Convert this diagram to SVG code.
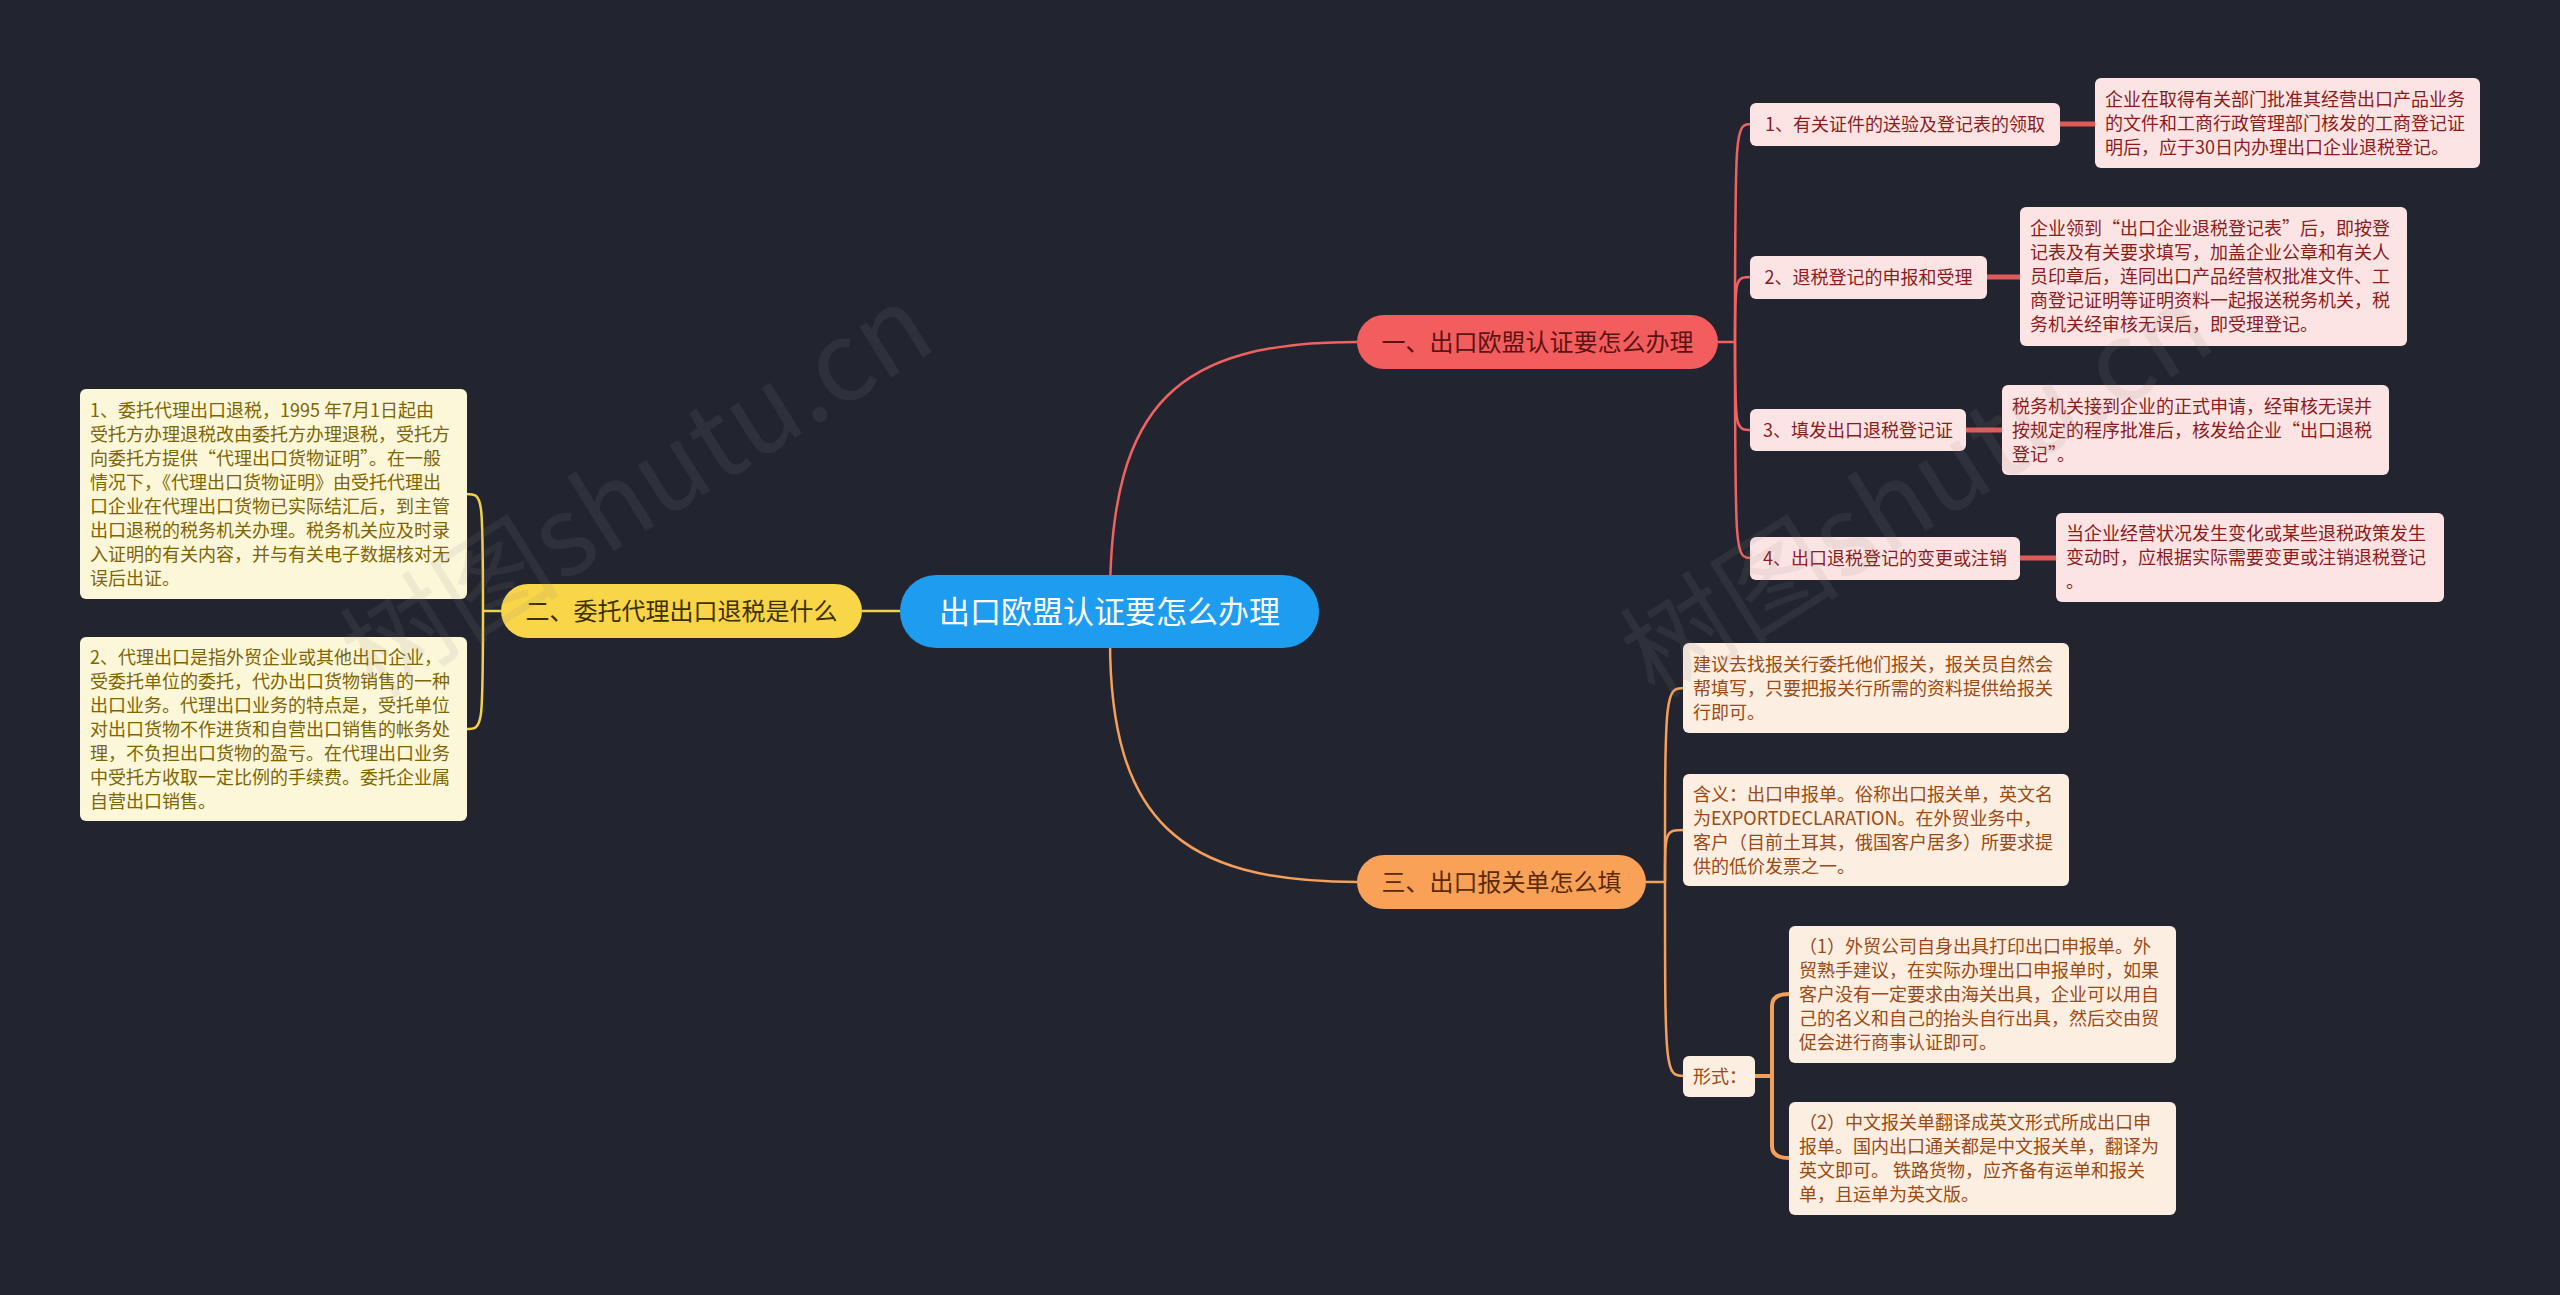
<svg xmlns="http://www.w3.org/2000/svg" width="2560" height="1295" viewBox="0 0 2560 1295">
<style>
text{font-family:"Noto Sans CJK SC","Noto Sans",sans-serif;}
.lr{fill:none;stroke:#f06262;stroke-width:2.5;}
.lo{fill:none;stroke:#f5a05a;stroke-width:2.5;}
.ly{fill:none;stroke:#f2d04a;stroke-width:2.5;}
.tr{fill:none;stroke:#e05a5a;stroke-width:5;}
.to{fill:none;stroke:#f5a05a;stroke-width:4;}
.pk{fill:#fde4e4;}
.pc{fill:#fdeee2;}
.cr{fill:#fdf7da;}
.tpk{font-size:18px;fill:#8b1c1c;}
.tpc{font-size:18px;fill:#9a4a12;}
.tcr{font-size:18px;fill:#7d6500;}
.wm{font-size:110px;fill:#8a8a8a;opacity:0.12;}
</style>
<rect x="0" y="0" width="2560" height="1295" fill="#22252f"/>
<g id="connectors">
<path class="lr" d="M1110 600 C1110 400 1180 342 1357 342"/>
<path class="lo" d="M1110 640 C1110 820 1180 882 1357 882"/>
<path class="ly" d="M900 611 H862" stroke-width="3"/>
<path class="lr" d="M1718 342 H1735"/>
<path class="lr" d="M1735 342 C1735 124 1735 124 1752 124"/>
<path class="lr" d="M1735 342 C1735 277 1735 277 1752 277"/>
<path class="lr" d="M1735 342 C1735 430 1735 430 1752 430"/>
<path class="lr" d="M1735 342 C1735 558 1735 558 1752 558"/>
<path class="tr" d="M2060 124 H2095"/>
<path class="tr" d="M1987 277 H2020"/>
<path class="tr" d="M1966 430 H2002"/>
<path class="tr" d="M2020 558 H2056"/>
<path class="lo" d="M1646 882 H1665"/>
<path class="lo" d="M1665 882 C1665 688 1665 688 1685 688"/>
<path class="lo" d="M1665 882 C1665 830 1665 830 1685 830"/>
<path class="lo" d="M1665 882 C1665 1076 1665 1076 1685 1076"/>
<path class="to" d="M1755 1076 H1772"/>
<path class="to" d="M1772 1076 V1006 Q1772 994 1789 994"/>
<path class="to" d="M1772 1076 V1146 Q1772 1158 1789 1158"/>
<path class="ly" d="M501 611 H483"/>
<path class="ly" d="M483 611 C483 494 483 494 466 494"/>
<path class="ly" d="M483 611 C483 729 483 729 466 729"/>
</g>
<g id="center">
<rect x="900" y="575" width="419" height="73" rx="36" fill="#1e9cf0"/>
<text x="1109.5" y="623" font-size="31" fill="#ffffff" text-anchor="middle">出口欧盟认证要怎么办理</text>
</g>
<g id="branch1">
<rect x="1357" y="315" width="361" height="54" rx="27" fill="#f45d5d"/>
<text x="1537.5" y="350.6" font-size="24" fill="#5c1313" text-anchor="middle">一、出口欧盟认证要怎么办理</text>
</g>
<g id="branch3">
<rect x="1357" y="855" width="289" height="54" rx="27" fill="#f8a157"/>
<text x="1501.5" y="890.6" font-size="24" fill="#5a2a0a" text-anchor="middle">三、出口报关单怎么填</text>
</g>
<g id="branch2">
<rect x="501" y="584" width="361" height="54" rx="27" fill="#f9d548"/>
<text x="681.5" y="619.6" font-size="24" fill="#3d3000" text-anchor="middle">二、委托代理出口退税是什么</text>
</g>
<g id="leaf1">
<rect class="pk" x="1750" y="103" width="310" height="43" rx="6"/>
<text class="tpk" x="1905" y="131" text-anchor="middle">1、有关证件的送验及登记表的领取</text>
</g>
<g id="desc1">
<rect class="pk" x="2095" y="78" width="385" height="90" rx="6"/>
<text class="tpk"><tspan x="2105" y="105.5">企业在取得有关部门批准其经营出口产品业务</tspan><tspan x="2105" y="129.5">的文件和工商行政管理部门核发的工商登记证</tspan><tspan x="2105" y="153.5">明后，应于30日内办理出口企业退税登记。</tspan></text>
</g>
<g id="leaf2">
<rect class="pk" x="1750" y="256" width="237" height="43" rx="6"/>
<text class="tpk" x="1868.5" y="284" text-anchor="middle">2、退税登记的申报和受理</text>
</g>
<g id="desc2">
<rect class="pk" x="2020" y="207" width="387" height="139" rx="6"/>
<text class="tpk"><tspan x="2030" y="235">企业领到“出口企业退税登记表”后，即按登</tspan><tspan x="2030" y="259">记表及有关要求填写，加盖企业公章和有关人</tspan><tspan x="2030" y="283">员印章后，连同出口产品经营权批准文件、工</tspan><tspan x="2030" y="307">商登记证明等证明资料一起报送税务机关，税</tspan><tspan x="2030" y="331">务机关经审核无误后，即受理登记。</tspan></text>
</g>
<g id="leaf3">
<rect class="pk" x="1750" y="409" width="216" height="42" rx="6"/>
<text class="tpk" x="1858" y="436.5" text-anchor="middle">3、填发出口退税登记证</text>
</g>
<g id="desc3">
<rect class="pk" x="2002" y="385" width="387" height="90" rx="6"/>
<text class="tpk"><tspan x="2012" y="412.5">税务机关接到企业的正式申请，经审核无误并</tspan><tspan x="2012" y="436.5">按规定的程序批准后，核发给企业“出口退税</tspan><tspan x="2012" y="460.5">登记”。</tspan></text>
</g>
<g id="leaf4">
<rect class="pk" x="1750" y="537" width="270" height="43" rx="6"/>
<text class="tpk" x="1885" y="565" text-anchor="middle">4、出口退税登记的变更或注销</text>
</g>
<g id="desc4">
<rect class="pk" x="2056" y="513" width="388" height="89" rx="6"/>
<text class="tpk"><tspan x="2066" y="540">当企业经营状况发生变化或某些退税政策发生</tspan><tspan x="2066" y="564">变动时，应根据实际需要变更或注销退税登记</tspan><tspan x="2066" y="588">。</tspan></text>
</g>
<g id="c1">
<rect class="pc" x="1683" y="643" width="386" height="90" rx="6"/>
<text class="tpc"><tspan x="1693" y="670.5">建议去找报关行委托他们报关，报关员自然会</tspan><tspan x="1693" y="694.5">帮填写，只要把报关行所需的资料提供给报关</tspan><tspan x="1693" y="718.5">行即可。</tspan></text>
</g>
<g id="c2">
<rect class="pc" x="1683" y="774" width="386" height="112" rx="6"/>
<text class="tpc"><tspan x="1693" y="800.5">含义：出口申报单。俗称出口报关单，英文名</tspan><tspan x="1693" y="824.5">为EXPORTDECLARATION。在外贸业务中，</tspan><tspan x="1693" y="848.5">客户（目前土耳其，俄国客户居多）所要求提</tspan><tspan x="1693" y="872.5">供的低价发票之一。</tspan></text>
</g>
<g id="c3">
<rect class="pc" x="1683" y="1056" width="72" height="41" rx="6"/>
<text class="tpc" x="1693" y="1083">形式：</text>
</g>
<g id="f1">
<rect class="pc" x="1789" y="926" width="387" height="137" rx="6"/>
<text class="tpc"><tspan x="1799" y="953">（1）外贸公司自身出具打印出口申报单。外</tspan><tspan x="1799" y="977">贸熟手建议，在实际办理出口申报单时，如果</tspan><tspan x="1799" y="1001">客户没有一定要求由海关出具，企业可以用自</tspan><tspan x="1799" y="1025">己的名义和自己的抬头自行出具，然后交由贸</tspan><tspan x="1799" y="1049">促会进行商事认证即可。</tspan></text>
</g>
<g id="f2">
<rect class="pc" x="1789" y="1102" width="387" height="113" rx="6"/>
<text class="tpc"><tspan x="1799" y="1129">（2）中文报关单翻译成英文形式所成出口申</tspan><tspan x="1799" y="1153">报单。国内出口通关都是中文报关单，翻译为</tspan><tspan x="1799" y="1177">英文即可。 铁路货物，应齐备有运单和报关</tspan><tspan x="1799" y="1201">单，且运单为英文版。</tspan></text>
</g>
<g id="y1">
<rect class="cr" x="80" y="389" width="387" height="210" rx="6"/>
<text class="tcr"><tspan x="90" y="416.5">1、委托代理出口退税，1995 年7月1日起由</tspan><tspan x="90" y="440.5">受托方办理退税改由委托方办理退税，受托方</tspan><tspan x="90" y="464.5">向委托方提供“代理出口货物证明”。在一般</tspan><tspan x="90" y="488.5">情况下，《代理出口货物证明》由受托代理出</tspan><tspan x="90" y="512.5">口企业在代理出口货物已实际结汇后，到主管</tspan><tspan x="90" y="536.5">出口退税的税务机关办理。税务机关应及时录</tspan><tspan x="90" y="560.5">入证明的有关内容，并与有关电子数据核对无</tspan><tspan x="90" y="584.5">误后出证。</tspan></text>
</g>
<g id="y2">
<rect class="cr" x="80" y="637" width="387" height="184" rx="6"/>
<text class="tcr"><tspan x="90" y="663.5">2、代理出口是指外贸企业或其他出口企业，</tspan><tspan x="90" y="687.5">受委托单位的委托，代办出口货物销售的一种</tspan><tspan x="90" y="711.5">出口业务。代理出口业务的特点是，受托单位</tspan><tspan x="90" y="735.5">对出口货物不作进货和自营出口销售的帐务处</tspan><tspan x="90" y="759.5">理，不负担出口货物的盈亏。在代理出口业务</tspan><tspan x="90" y="783.5">中受托方收取一定比例的手续费。委托企业属</tspan><tspan x="90" y="807.5">自营出口销售。</tspan></text>
</g>
<g id="watermarks">
<text class="wm" transform="translate(375 700) rotate(-32)">树图shutu.cn</text>
<text class="wm" transform="translate(1655 700) rotate(-32)">树图shutu.cn</text>
</g>
</svg>
